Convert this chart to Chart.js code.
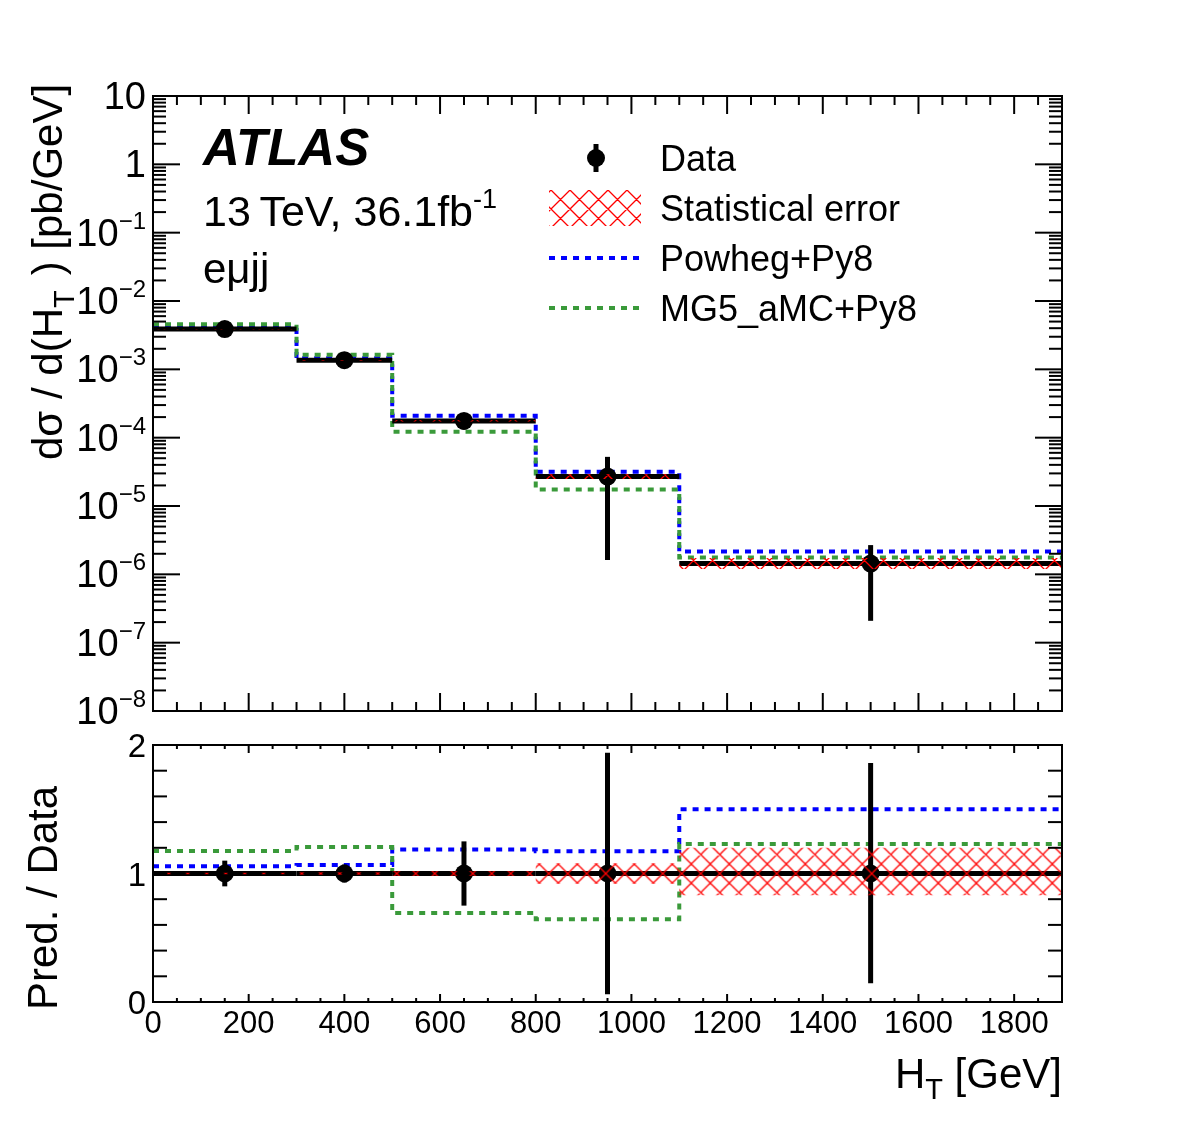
<!DOCTYPE html>
<html>
<head>
<meta charset="utf-8">
<title>dsigma / dHT</title>
<script src="https://cdn.jsdelivr.net/npm/chart.js@4.4.1/dist/chart.umd.min.js"></script>
<style>
  body { margin: 0; background: #fff; }
  #wrap { position: relative; width: 1182px; height: 1123px; }
  canvas { position: absolute; left: 0; }
  #mainPad { top: 0; }
  #ratioPad { top: 725px; }
</style>
</head>
<body>
<div id="wrap">
  <canvas id="mainPad" width="1182" height="740"></canvas>
  <canvas id="ratioPad" width="1182" height="398"></canvas>
</div>
<script>
const FONT = '"Liberation Sans", Arial, Helvetica, sans-serif';

// H_T bins [GeV]
const binEdges = [0, 300, 500, 800, 1100, 1900];
const binCenters = [150, 400, 650, 950, 1500];

// dsigma/dH_T [pb/GeV]
const dataXsec = [3.88e-3, 1.36e-3, 1.76e-4, 2.70e-5, 1.44e-6];
const dataErrUp = [0.10, 0.07, 0.25, 0.94, 0.86];   // relative, total
const dataErrDn = [0.10, 0.07, 0.25, 0.94, 0.855];
const statErrUp = [0.005, 0.01, 0.02, 0.08, 0.20];  // relative, stat only
const statErrDn = [0.005, 0.01, 0.02, 0.08, 0.17];
const powhegXsec = [4.10e-3, 1.45e-3, 2.09e-4, 3.17e-5, 2.16e-6];
const mg5Xsec = [4.56e-3, 1.64e-3, 1.22e-4, 1.74e-5, 1.77e-6];

// ticks
const xTicks = [0, 200, 400, 600, 800, 1000, 1200, 1400, 1600, 1800];
const xTickLabels = ['0', '200', '400', '600', '800', '1000', '1200', '1400', '1600', '1800'];
const mainYTicks = [10, 1, 1e-1, 1e-2, 1e-3, 1e-4, 1e-5, 1e-6, 1e-7, 1e-8];
const mainYTickBase = ['10', '1', '10', '10', '10', '10', '10', '10', '10', '10'];
const mainYTickExp = ['', '', '\u22121', '\u22122', '\u22123', '\u22124', '\u22125', '\u22126', '\u22127', '\u22128'];
const ratioYTicks = [0, 1, 2];
const ratioYTickLabels = ['0', '1', '2'];

const BLUE = '#0000ff';
const GREEN = '#3a9a3a';

function f(size, style) {
    return (style ? style + ' ' : '') + size + 'px ' + FONT;
}

// histogram-like step outline: one point per bin edge
function steps(vals) {
    return binEdges.map((x, i) => ({ x: x, y: vals[Math.min(i, vals.length - 1)] }));
}

function rich(ctx, parts, x, y, align, rot) {
    ctx.save();
    ctx.translate(x, y);
    if (rot) ctx.rotate(rot);
    ctx.fillStyle = '#000';
    ctx.textAlign = 'left';
    ctx.textBaseline = 'alphabetic';
    let total = 0;
    parts.forEach(p => {
        ctx.font = p.font;
        p.w = ctx.measureText(p.t).width + (p.gap || 0);
        total += p.w;
    });
    let cx = align === 'right' ? -total : (align === 'center' ? -total / 2 : 0);
    parts.forEach(p => {
        ctx.font = p.font;
        ctx.fillText(p.t, cx, p.dy || 0);
        cx += p.w;
    });
    ctx.restore();
}

function tick(ctx, x1, y1, x2, y2) {
    ctx.beginPath();
    ctx.moveTo(x1, y1);
    ctx.lineTo(x2, y2);
    ctx.stroke();
}

function makeHatch(ctx, dx, dy) {
    const tile = document.createElement('canvas');
    tile.width = 38;
    tile.height = 38;
    const g = tile.getContext('2d');
    g.strokeStyle = '#ff0000';
    g.lineWidth = 1.3;
    g.beginPath();
    for (let k = -76; k <= 76; k += 19) {
        g.moveTo(k, 0); g.lineTo(k + 38, 38);
        g.moveTo(k + 38, 0); g.lineTo(k, 38);
    }
    g.stroke();
    const pat = ctx.createPattern(tile, 'repeat');
    if (pat.setTransform) pat.setTransform(new DOMMatrix().translate(dx, dy));
    return pat;
}

function drawXTicks(chart, majorLen, minorLen) {
    const { ctx, chartArea: a, scales: { x } } = chart;
    for (let v = 0; v <= 1900; v += 50) {
        const px = x.getPixelForValue(v);
        const len = xTicks.includes(v) ? majorLen : minorLen;
        tick(ctx, px, a.bottom, px, a.bottom - len);
        tick(ctx, px, a.top, px, a.top + len);
    }
}

// data: horizontal bin bars + vertical error bars, drawn under the markers
const dataBars = {
    id: 'dataBars',
    beforeDatasetDraw(chart, args, opts) {
        if (chart.data.datasets[args.index].label !== 'Data') return;
        const { ctx, scales: { x, y } } = chart;
        ctx.save();
        ctx.strokeStyle = '#000';
        ctx.lineWidth = 5;
        ctx.setLineDash([]);
        opts.values.forEach((v, i) => {
            const py = y.getPixelForValue(v);
            tick(ctx, x.getPixelForValue(binEdges[i]), py, x.getPixelForValue(binEdges[i + 1]), py);
            const px = x.getPixelForValue(binCenters[i]);
            tick(ctx, px, y.getPixelForValue(v * (1 + dataErrUp[i])), px, y.getPixelForValue(v * (1 - dataErrDn[i])));
        });
        ctx.restore();
    }
};

const mainDecor = {
    id: 'mainDecor',
    afterDraw(chart) {
        const { ctx, chartArea: a, scales: { y } } = chart;
        ctx.save();
        ctx.strokeStyle = '#000';
        ctx.lineWidth = 2;
        ctx.setLineDash([]);
        drawXTicks(chart, 18, 9);
        mainYTicks.forEach(v => {
            const py = y.getPixelForValue(v);
            tick(ctx, a.left, py, a.left + 27, py);
            tick(ctx, a.right, py, a.right - 27, py);
        });
        for (let e = -8; e <= 0; e++) {
            for (let k = 2; k <= 9; k++) {
                const py = y.getPixelForValue(k * Math.pow(10, e));
                tick(ctx, a.left, py, a.left + 13, py);
                tick(ctx, a.right, py, a.right - 13, py);
            }
        }
        ctx.strokeRect(a.left, a.top, a.right - a.left, a.bottom - a.top);

        mainYTicks.forEach((v, i) => {
            const parts = [{ t: mainYTickBase[i], font: f(38) }];
            if (mainYTickExp[i]) parts.push({ t: mainYTickExp[i], font: f(24), dy: -17 });
            rich(ctx, parts, a.left - 7, y.getPixelForValue(v) + 13, 'right');
        });

        // y title
        rich(ctx, [
            { t: 'd\u03c3 / d(H', font: f(42) },
            { t: 'T', font: f(29), dy: 12, gap: 15 },
            { t: ') [pb/GeV]', font: f(42) }
        ], 62, 460, 'left', -Math.PI / 2);

        // labels
        rich(ctx, [{ t: 'ATLAS', font: f(51, 'italic bold') }], 203, 165, 'left');
        rich(ctx, [{ t: '13\u2009TeV, 36.1fb', font: f(43) }, { t: '-1', font: f(27), dy: -18 }], 203, 226, 'left');
        rich(ctx, [{ t: 'e\u03bcjj', font: f(42) }], 203, 283, 'left');

        // legend
        ctx.fillStyle = '#000';
        ctx.lineWidth = 5;
        tick(ctx, 596, 144, 596, 172);
        ctx.beginPath();
        ctx.arc(596, 158, 9, 0, Math.PI * 2);
        ctx.fill();
        ctx.fillStyle = chart.$hatch;
        ctx.fillRect(549, 190, 92, 36);
        ctx.lineWidth = 4;
        ctx.setLineDash([6, 6]);
        ctx.strokeStyle = BLUE;
        tick(ctx, 549, 258, 641, 258);
        ctx.strokeStyle = GREEN;
        tick(ctx, 549, 308, 641, 308);
        ctx.setLineDash([]);
        const legendText = ['Data', 'Statistical error', 'Powheg+Py8', 'MG5_aMC+Py8'];
        legendText.forEach((t, i) => rich(ctx, [{ t: t, font: f(36) }], 660, 171 + 50 * i, 'left'));
        ctx.restore();
    }
};

const ratioDecor = {
    id: 'ratioDecor',
    afterDraw(chart) {
        const { ctx, chartArea: a, scales: { x, y } } = chart;
        ctx.save();
        ctx.strokeStyle = '#000';
        ctx.lineWidth = 2;
        ctx.setLineDash([]);
        drawXTicks(chart, 8, 4);
        for (let i = 0; i <= 10; i++) {
            const py = y.getPixelForValue(i * 0.2);
            tick(ctx, a.left, py, a.left + 14, py);
            tick(ctx, a.right, py, a.right - 14, py);
        }
        ctx.strokeRect(a.left, a.top, a.right - a.left, a.bottom - a.top);

        ratioYTicks.forEach((v, i) => {
            rich(ctx, [{ t: ratioYTickLabels[i], font: f(33) }], a.left - 7, y.getPixelForValue(v) + 12, 'right');
        });
        xTicks.forEach((v, i) => {
            rich(ctx, [{ t: xTickLabels[i], font: f(31) }], x.getPixelForValue(v), a.bottom + 31, 'center');
        });

        rich(ctx, [
            { t: 'H', font: f(42) },
            { t: 'T', font: f(29), dy: 11 },
            { t: ' [GeV]', font: f(42) }
        ], a.right, 363, 'right');
        rich(ctx, [{ t: 'Pred. / Data', font: f(42) }], 57, 285, 'left', -Math.PI / 2);
        ctx.restore();
    }
};

function padOptions(padding, yScale, values) {
    return {
        responsive: false,
        animation: false,
        events: [],
        layout: { padding: padding },
        plugins: {
            legend: { display: false },
            tooltip: { enabled: false },
            dataBars: { values: values }
        },
        scales: {
            x: { type: 'linear', min: 0, max: 1900, display: false },
            y: yScale
        }
    };
}

function padDatasets(hatch, data, lo, hi, powheg, mg5) {
    return [
        { label: 'statLo', data: steps(lo), stepped: true, borderWidth: 0, pointRadius: 0, fill: false, order: 0 },
        { label: 'Statistical error', data: steps(hi), stepped: true, borderWidth: 0, pointRadius: 0,
          fill: '-1', backgroundColor: hatch, order: 0 },
        { label: 'Powheg+Py8', data: steps(powheg), stepped: true, borderColor: BLUE, borderWidth: 4,
          borderDash: [6, 6], pointRadius: 0, fill: false, order: 3 },
        { label: 'MG5_aMC+Py8', data: steps(mg5), stepped: true, borderColor: GREEN, borderWidth: 4,
          borderDash: [6, 6], pointRadius: 0, fill: false, order: 2 },
        { label: 'Data', data: binCenters.map((x, i) => ({ x: x, y: data[i] })), showLine: false,
          pointRadius: 9, pointBackgroundColor: '#000', pointBorderWidth: 0, order: 1 }
    ];
}

// main pad
const mainCanvas = document.getElementById('mainPad');
const mainHatch = makeHatch(mainCanvas.getContext('2d'), 0, 0);
const mainChart = new Chart(mainCanvas, {
    type: 'line',
    data: {
        datasets: padDatasets(mainHatch, dataXsec,
            dataXsec.map((v, i) => v * (1 - statErrDn[i])),
            dataXsec.map((v, i) => v * (1 + statErrUp[i])),
            powhegXsec, mg5Xsec)
    },
    options: padOptions({ left: 153, right: 120, top: 96, bottom: 29 },
        { type: 'logarithmic', min: 1e-8, max: 10, display: false }, dataXsec),
    plugins: [dataBars, mainDecor]
});
mainChart.$hatch = mainHatch;
mainChart.draw();

// ratio pad: prediction / data
const ones = dataXsec.map(v => v / v);
const ratioCanvas = document.getElementById('ratioPad');
const ratioHatch = makeHatch(ratioCanvas.getContext('2d'), -2.3, -3.5);
new Chart(ratioCanvas, {
    type: 'line',
    data: {
        datasets: padDatasets(ratioHatch, ones,
            statErrDn.map(e => 1 - e),
            statErrUp.map(e => 1 + e),
            powhegXsec.map((v, i) => v / dataXsec[i]),
            mg5Xsec.map((v, i) => v / dataXsec[i]))
    },
    options: padOptions({ left: 153, right: 120, top: 20, bottom: 121 },
        { type: 'linear', min: 0, max: 2, display: false }, ones),
    plugins: [dataBars, ratioDecor]
});
</script>
</body>
</html>
